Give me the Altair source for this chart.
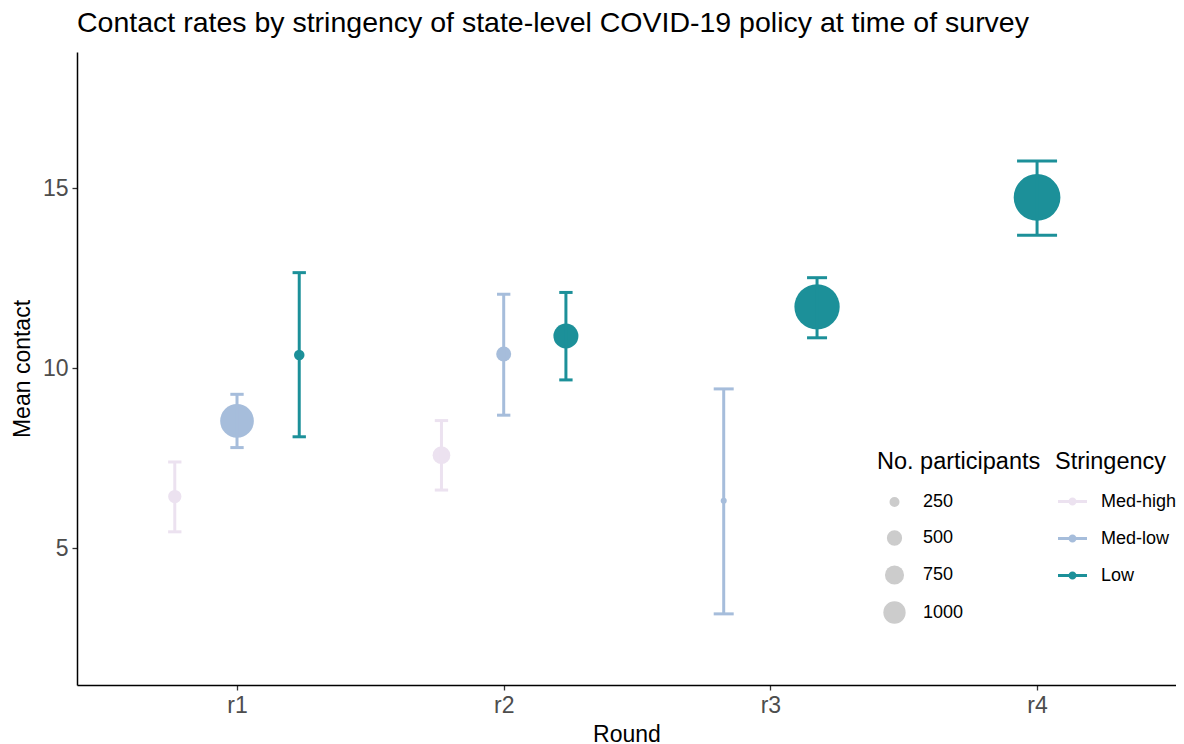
import altair as alt
import pandas as pd

# ---- data ----
rounds = ["r1", "r1", "r1", "r2", "r2", "r2", "r3", "r3", "r4"]
stringency = ["Med-high", "Med-low", "Low", "Med-high", "Med-low", "Low", "Med-low", "Low", "Low"]
mean_contact = [6.43, 8.53, 10.36, 7.58, 10.39, 10.89, 6.31, 11.70, 14.74]
ci_low = [5.45, 7.79, 8.09, 6.61, 8.69, 9.67, 3.17, 10.84, 13.69]
ci_high = [7.39, 9.27, 12.65, 8.54, 12.05, 12.10, 9.42, 12.51, 15.75]
participants = [395, 2205, 270, 653, 486, 1241, 130, 3936, 4179]

round_labels = ["r1", "r2", "r3", "r4"]
levels = ["Med-high", "Med-low", "Low"]
palette = ["#ece2f0", "#a6bddb", "#1c9099"]
size_breaks = [250, 500, 750, 1000]
y_ticks = [5, 10, 15]

DODGE = 0.7   # dodge width (ggplot position_dodge)
CAP = 0.15    # errorbar cap width

df = pd.DataFrame({
    "round": rounds,
    "stringency": stringency,
    "mean": mean_contact,
    "lo": ci_low,
    "hi": ci_high,
    "participants": participants,
})
df["round_idx"] = df["round"].map({r: i + 1 for i, r in enumerate(round_labels)})
df["n_in_round"] = df.groupby("round")["round"].transform("size")
df["slot"] = df.groupby("round").cumcount()
df["pos"] = df["round_idx"] + (df["slot"] - (df["n_in_round"] - 1) / 2) * DODGE / df["n_in_round"]
df["cap_l"] = df["pos"] - CAP / df["n_in_round"] / 2
df["cap_r"] = df["pos"] + CAP / df["n_in_round"] / 2

FONT = "Liberation Sans"

x_scale = alt.Scale(domain=[0.4, 4.521], nice=False, zero=False)
y_scale = alt.Scale(domain=[1.194, 18.78], nice=False, zero=False)
color_scale = alt.Scale(domain=levels, range=palette)

x_axis = alt.Axis(values=[1, 2, 3, 4], labelExpr="'r' + datum.value", title="Round",
                  grid=False, titlePadding=6)
y_axis = alt.Axis(values=y_ticks, title="Mean contact", grid=False, titlePadding=8)

legend_path = ("M-1,-0.1L1,-0.1L1,0.1L-1,0.1Z "
               "M0.28,0A0.28,0.28 0 1,1 -0.28,0A0.28,0.28 0 1,1 0.28,0Z")

base = alt.Chart(df)

points = base.mark_circle(opacity=1).encode(
    x=alt.X("pos:Q", scale=x_scale, axis=x_axis),
    y=alt.Y("mean:Q", scale=y_scale, axis=y_axis),
    color=alt.Color(
        "stringency:N", scale=color_scale, sort=levels,
        legend=alt.Legend(
            title="Stringency", orient="none", legendX=978, legendY=398,
            symbolType=legend_path, symbolSize=841, symbolStrokeWidth=0,
            symbolOffset=3, labelOffset=14, rowPadding=13, titlePadding=13.5,
            padding=0, gridAlign="all",
        ),
    ),
    size=alt.Size(
        "participants:Q",
        scale=alt.Scale(domain=[61, 5000], range=[0, 2617], zero=False, nice=False),
        legend=alt.Legend(
            title="No. participants", orient="none", legendX=800, legendY=398,
            values=size_breaks, format="d", symbolFillColor="#cccccc", symbolStrokeWidth=0,
            symbolOffset=6, labelOffset=17, rowPadding=13, titlePadding=19.5,
            padding=0, symbolType="circle", gridAlign="all",
        ),
    ),
)

bars = base.mark_rule(strokeWidth=3).encode(
    x="pos:Q", y="lo:Q", y2="hi:Q",
    color=alt.Color("stringency:N", scale=color_scale, legend=None),
)
cap_top = base.mark_rule(strokeWidth=3).encode(
    x="cap_l:Q", x2="cap_r:Q", y="hi:Q",
    color=alt.Color("stringency:N", scale=color_scale, legend=None),
)
cap_bot = base.mark_rule(strokeWidth=3).encode(
    x="cap_l:Q", x2="cap_r:Q", y="lo:Q",
    color=alt.Color("stringency:N", scale=color_scale, legend=None),
)

chart = alt.layer(points, bars, cap_top, cap_bot).properties(
    width=1099,
    height=633,
    background="white",
    title=alt.TitleParams(
        "Contact rates by stringency of state-level COVID-19 policy at time of survey",
        anchor="start", frame="group", fontSize=28.5, font=FONT, fontWeight="normal",
        color="black", baseline="alphabetic", offset=13, dy=21,
    ),
    autosize=alt.AutoSizeParams(type="none"),
    padding={"left": 69, "top": 44, "right": 0, "bottom": 59},
).configure_view(stroke=None).configure_axis(
    domainColor="black", domainWidth=1.5, tickColor="#333333", tickSize=5, tickWidth=1.3,
    labelColor="#4d4d4d", labelFontSize=23, labelFont=FONT, labelPadding=4,
    titleColor="black", titleFontSize=23, titleFont=FONT, titleFontWeight="normal",
).configure_legend(
    titleFont=FONT, titleFontSize=23.5, titleFontWeight="normal", titleColor="black",
    labelFont=FONT, labelFontSize=18, labelColor="black",
)

chart.save("out.html", embed_options={"renderer": "svg", "actions": False})
